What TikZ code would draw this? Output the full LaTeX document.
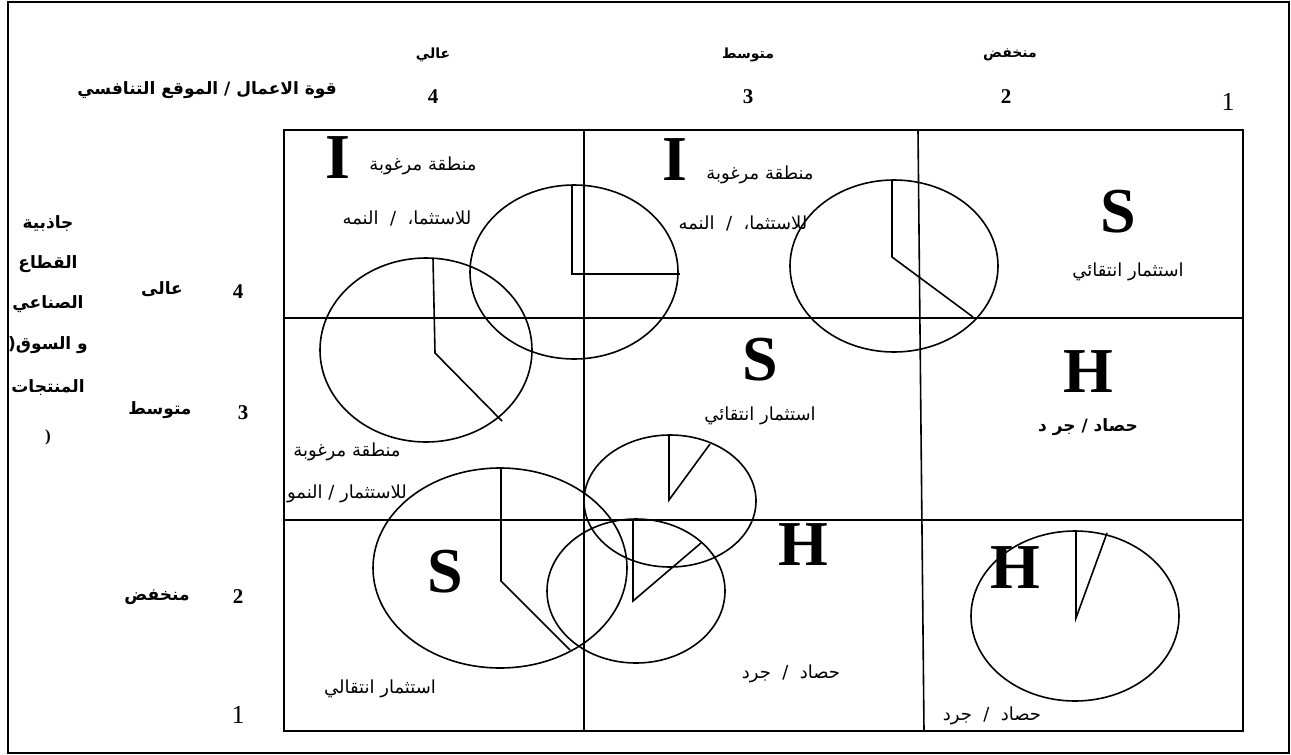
\documentclass[tikz,border=0pt]{standalone}
\usepackage{fontspec}
\setmainfont{Liberation Serif}
\newfontfamily\arabicfont[Script=Arabic]{DejaVu Sans}
\TeXXeTstate=1
\newcommand{\artxt}[1]{{\arabicfont\beginR #1\endR}}

\tikzset{
  frame line/.style={line width=2pt},
  grid line/.style={line width=1.6pt},
  pie/.style={line width=1.6pt},
  big letter/.style={font=\bfseries\fontsize{64}{64}\selectfont, inner sep=0pt},
  cell text/.style={font=\fontsize{18}{20}\selectfont, inner sep=0pt},
  head text/.style={font=\bfseries\fontsize{14}{16}\selectfont, inner sep=0pt},
  axis text/.style={font=\bfseries\fontsize{17}{19}\selectfont, inner sep=0pt},
  axis num/.style={font=\bfseries\fontsize{21}{24}\selectfont, inner sep=0pt},
  plain num/.style={font=\fontsize{26}{28}\selectfont, inner sep=0pt}
}

\begin{document}
\begin{tikzpicture}[x=1pt, y=-1pt]
	\useasboundingbox (0,0) rectangle (1291,755);
	\draw[frame line] (8,2) rectangle (1289,753);

	% matrix
	\draw[grid line] (284,130) rectangle (1243,731);
	\draw[grid line] (284,318) -- (1243,318);
	\draw[grid line] (284,520) -- (1243,520);
	\draw[grid line] (584,130) -- (584,731);
	\draw[grid line] (918,130) -- (924,731);

	% business strength axis
	\node[axis text] (xtitle) at (207,90) {\artxt{قوة الاعمال / الموقع التنافسي}};
	\node[head text] (xhigh) at (433,55) {\artxt{عالي}};
	\node[head text] (xmid) at (748,55) {\artxt{متوسط}};
	\node[head text] (xlow) at (1010,55) {\artxt{منخفض}};
	\node[axis num] (xfour) at (433,97) {4};
	\node[axis num] (xthree) at (748,97) {3};
	\node[axis num] (xtwo) at (1006,97) {2};
	\node[plain num] (xone) at (1228,102) {1};

	% industry attractiveness axis
	\node[axis text] (ytitlea) at (48,224) {\artxt{جاذبية}};
	\node[axis text] (ytitleb) at (48,264) {\artxt{القطاع}};
	\node[axis text] (ytitlec) at (48,304) {\artxt{الصناعي}};
	\node[axis text] (ytitled) at (48,345) {\artxt{و\ السوق\beginL(\endL}};
	\node[axis text] (ytitlee) at (48,388) {\artxt{المنتجات}};
	\node[axis text] (ytitlef) at (48,437) {)};
	\node[axis text] (yhigh) at (162,289) {\artxt{عالى}};
	\node[axis text] (ymid) at (160,410) {\artxt{متوسط}};
	\node[axis text] (ylow) at (157,597) {\artxt{منخفض}};
	\node[axis num] (yfour) at (238,292) {4};
	\node[axis num] (ythree) at (243,413) {3};
	\node[axis num] (ytwo) at (238,597) {2};
	\node[plain num] (yone) at (238,715) {1};

	% pies
	\draw[pie] (574,272) ellipse [x radius=104pt, y radius=87pt];
	\draw[pie] (572,185) -- (572,274) -- (680,274);
	\draw[pie] (426,350) ellipse [x radius=106pt, y radius=92pt];
	\draw[pie] (433,258) -- (435,353) -- (502,421);
	\draw[pie] (894,266) ellipse [x radius=104pt, y radius=86pt];
	\draw[pie] (892,180) -- (892,257) -- (973,317);
	\draw[pie] (670,501) ellipse [x radius=86pt, y radius=66pt];
	\draw[pie] (669,435) -- (669,500) -- (710,444);
	\draw[pie] (636,591) ellipse [x radius=89pt, y radius=72pt];
	\draw[pie] (633,520) -- (633,601) -- (701,543);
	\draw[pie] (500,568) ellipse [x radius=127pt, y radius=100pt];
	\draw[pie] (501,468) -- (501,581) -- (570,650);
	\draw[pie] (1075,616) ellipse [x radius=104pt, y radius=85pt];
	\draw[pie] (1076,531) -- (1076,618) -- (1107,533);

	% cell labels
	\node[big letter] (ihh) at (338,158) {I};
	\node[cell text] (ihhz) at (423,166) {\artxt{منطقة مرغوبة}};
	\node[cell text] (ihhg) at (407,218) {\artxt{للاستثما،\ \ /\ \ النمه}};
	\node[big letter] (ihm) at (675,160) {I};
	\node[cell text] (ihmz) at (760,175) {\artxt{منطقة مرغوبة}};
	\node[cell text] (ihmg) at (743,223) {\artxt{للاستثما،\ \ /\ \ النمه}};
	\node[big letter] (shl) at (1118,212) {S};
	\node[cell text] (shlt) at (1128,272) {\artxt{استثمار انتقائي}};
	\node[cell text] (imhz) at (347,452) {\artxt{منطقة مرغوبة}};
	\node[cell text] (imhg) at (347,494) {\artxt{للاستثمار / النمو}};
	\node[big letter] (smm) at (760,360) {S};
	\node[cell text] (smmt) at (760,416) {\artxt{استثمار انتقائي}};
	\node[big letter] (hml) at (1088,372) {H};
	\node[axis text] (hmlt) at (1088,427) {\artxt{حصاد / جر د}};
	\node[big letter] (slh) at (445,572) {S};
	\node[cell text] (slht) at (380,689) {\artxt{استثمار انتقالي}};
	\node[big letter] (hlm) at (803,545) {H};
	\node[cell text] (hlmt) at (791,674) {\artxt{حصاد\ \ /\ \ جرد}};
	\node[big letter] (hll) at (1015,568) {H};
	\node[cell text] (hllt) at (992,716) {\artxt{حصاد\ \ /\ \ جرد}};
\end{tikzpicture}
\end{document}
